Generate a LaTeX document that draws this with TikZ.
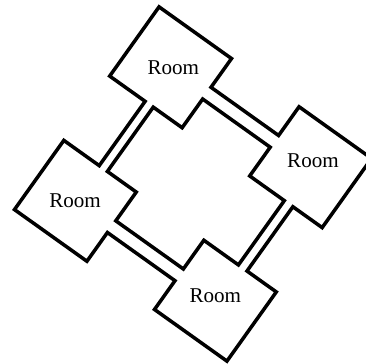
\documentclass[tikz,border=0pt]{standalone}
\usepackage{fontspec}
\setmainfont{Liberation Serif}

\begin{document}
\begin{tikzpicture}[
    x=0.02cm, y=0.02cm,
    wall/.style={line width=2pt, line join=miter},
    roomlabel/.style={font=\fontsize{12}{14}\selectfont, inner sep=0pt}
  ]
  \clip (0,0) rectangle (366,-363);
  \begin{scope}[shift={(193,-184)}, rotate=-35.5]
    % outer wall: rooms and the outside of the corridors
    \draw[wall] (-130.5,124.5) -- (-41.5,124.5) -- (-41.5,89.2) -- (41.5,89.2)
      -- (41.5,124.5) -- (130.5,124.5) -- (130.5,39.5) -- (94.5,39.5)
      -- (94.5,-39.5) -- (130.5,-39.5) -- (130.5,-124.5) -- (41.5,-124.5)
      -- (41.5,-89.2) -- (-41.5,-89.2) -- (-41.5,-124.5) -- (-130.5,-124.5)
      -- (-130.5,-39.5) -- (-87,-39.5) -- (-87,39.5) -- (-130.5,39.5) -- cycle;
    % inner wall round the courtyard
    \draw[wall] (-41.5,74.8) -- (41.5,74.8) -- (41.5,39.5) -- (84,39.5)
      -- (84,-39.5) -- (41.5,-39.5) -- (41.5,-74.8) -- (-41.5,-74.8)
      -- (-41.5,-39.5) -- (-77,-39.5) -- (-77,39.5) -- (-41.5,39.5) -- cycle;

    \node[roomlabel] (north) at (-83.7,83.4)  {Room};
    \node[roomlabel] (east)  at (84.2,88.6)   {Room};
    \node[roomlabel] (south) at (83.1,-78)    {Room};
    \node[roomlabel] (west)  at (-86.2,-82.3) {Room};
  \end{scope}
\end{tikzpicture}
\end{document}
